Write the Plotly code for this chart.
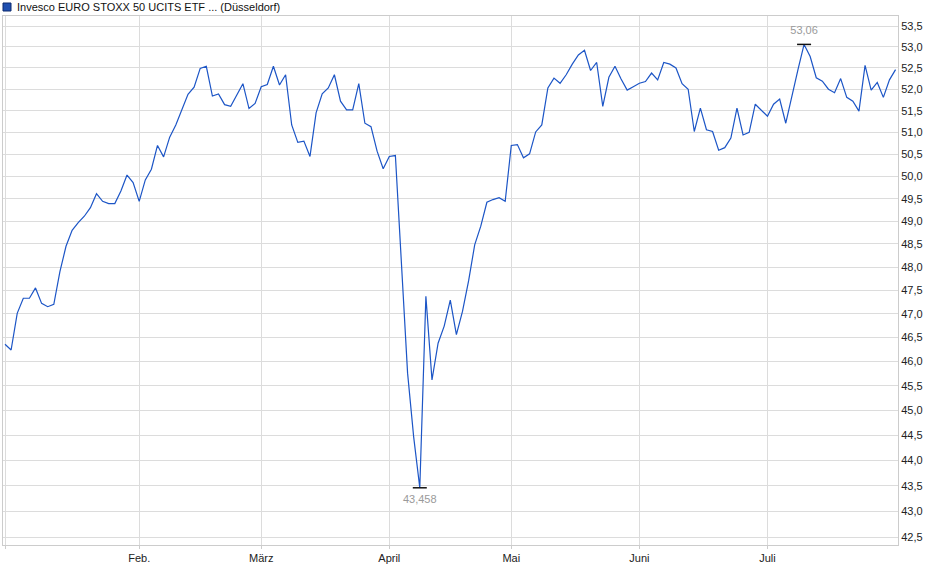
import math
import pandas as pd
import plotly.graph_objects as go

# ---- data -------------------------------------------------------------
series_name = "Invesco EURO STOXX 50 UCITS ETF ... (Düsseldorf)"

holidays = ["2025-04-18", "2025-04-21", "2025-05-01"]
dates = [d.strftime("%Y-%m-%d") for d in pd.bdate_range("2025-01-02", "2025-07-30")
         if d.strftime("%Y-%m-%d") not in holidays]

prices = [
    46.36, 46.24, 47.01, 47.33, 47.33, 47.55, 47.22, 47.15, 47.20, 47.90,
    48.45, 48.80, 48.97, 49.11, 49.30, 49.61, 49.44, 49.39, 49.39, 49.67,
    50.03, 49.86, 49.44, 49.92, 50.16, 50.70, 50.44, 50.89, 51.17, 51.54,
    51.88, 52.05, 52.49, 52.54, 51.84, 51.89, 51.64, 51.60, 51.88, 52.13,
    51.55, 51.67, 52.06, 52.11, 52.54, 52.10, 52.34, 51.17, 50.77, 50.80,
    50.45, 51.45, 51.89, 52.03, 52.34, 51.72, 51.52, 51.52, 52.13, 51.21,
    51.13, 50.57, 50.17, 50.45, 50.47, 48.01, 45.76, 44.46, 43.458, 47.37,
    45.62, 46.38, 46.74, 47.29, 46.56, 47.05, 47.70, 48.48, 48.89, 49.42,
    49.48, 49.52, 49.44, 50.70, 50.72, 50.42, 50.51, 51.01, 51.17, 52.03,
    52.26, 52.14, 52.34, 52.59, 52.81, 52.92, 52.44, 52.63, 51.60, 52.28,
    52.54, 52.24, 51.98, 52.06, 52.14, 52.18, 52.38, 52.22, 52.63, 52.59,
    52.50, 52.13, 52.00, 51.02, 51.56, 51.06, 51.02, 50.59, 50.65, 50.87,
    51.56, 50.94, 51.00, 51.65, 51.50, 51.37, 51.65, 51.77, 51.21, 51.87,
    52.46, 53.06, 52.77, 52.27, 52.19, 52.00, 51.92, 52.25, 51.81, 51.72,
    51.49, 52.56, 51.98, 52.16, 51.81, 52.22, 52.46,
]

month_ticks = ["2025-01-02", "2025-02-03", "2025-03-03", "2025-04-01",
               "2025-05-02", "2025-06-02", "2025-07-01"]
month_labels = ["", "Feb.", "März", "April", "Mai", "Juni", "Juli"]

y_ticks = [42.5, 43.0, 43.5, 44.0, 44.5, 45.0, 45.5, 46.0, 46.5, 47.0, 47.5,
           48.0, 48.5, 49.0, 49.5, 50.0, 50.5, 51.0, 51.5, 52.0, 52.5, 53.0, 53.5]
y_tick_text = [f"{v:.1f}".replace(".", ",") for v in y_ticks]

# ---- figure -----------------------------------------------------------
LINE = "#1c55c6"
GRID = "#dcdcdc"
FONT = "Liberation Sans, Arial, sans-serif"

i_min = prices.index(min(prices))
i_max = prices.index(max(prices))

fig = go.Figure()
fig.add_trace(go.Scatter(x=dates, y=prices, mode="lines",
                         line=dict(color=LINE, width=1.2), hoverinfo="skip"))
fig.add_trace(go.Scatter(
    x=[dates[i_min]], y=[prices[i_min]], mode="markers+text",
    marker=dict(symbol="line-ew", size=10, line=dict(color="#111", width=1.5)),
    text=[f"{prices[i_min]:.3f}".replace(".", ",")], textposition="bottom center",
    textfont=dict(color="#9a9a9a", size=11, family=FONT), hoverinfo="skip"))
fig.add_trace(go.Scatter(
    x=[dates[i_max]], y=[prices[i_max]], mode="markers+text",
    marker=dict(symbol="line-ew", size=10, line=dict(color="#111", width=1.5)),
    text=[f"{prices[i_max]:.2f}".replace(".", ",")], textposition="top center",
    textfont=dict(color="#9a9a9a", size=11, family=FONT), hoverinfo="skip"))

# legend-like header
W, H = 895.0, 529.0
fig.add_shape(type="rect", xref="paper", yref="paper",
              x0=0, x1=8 / W, y0=(545 - 11) / H, y1=(545 - 3) / H,
              fillcolor="#1f4fb0", line=dict(color="#0c2a6e", width=1))
fig.add_annotation(xref="paper", yref="paper", x=12 / W, y=(545 - 7) / H,
                   xanchor="left", yanchor="middle", showarrow=False,
                   text=series_name, font=dict(family=FONT, size=11, color="#111"))

fig.update_layout(
    width=940, height=579,
    margin=dict(l=3, r=42, t=16, b=34),
    paper_bgcolor="white", plot_bgcolor="white",
    showlegend=False,
    font=dict(family=FONT, size=11, color="#222"),
    xaxis=dict(type="category", range=[-0.33, len(dates) - 0.6],
               tickvals=month_ticks, ticktext=month_labels,
               showgrid=True, gridcolor=GRID, gridwidth=1,
               showline=True, linecolor="#cccccc", mirror=True,
               ticks="outside", ticklen=3, tickcolor="#cccccc",
               zeroline=False, tickfont=dict(size=11, color="#222")),
    yaxis=dict(type="log", side="right",
               range=[math.log10(42.353), math.log10(53.743)],
               tickvals=y_ticks, ticktext=y_tick_text,
               showgrid=True, gridcolor=GRID, gridwidth=1,
               showline=True, linecolor="#cccccc", mirror=True,
               ticks="", zeroline=False, tickfont=dict(size=11, color="#222")),
)

fig.write_html("out.html", config={"displayModeBar": False},
               post_script="document.body.style.margin='0';document.body.style.overflow='hidden';")
